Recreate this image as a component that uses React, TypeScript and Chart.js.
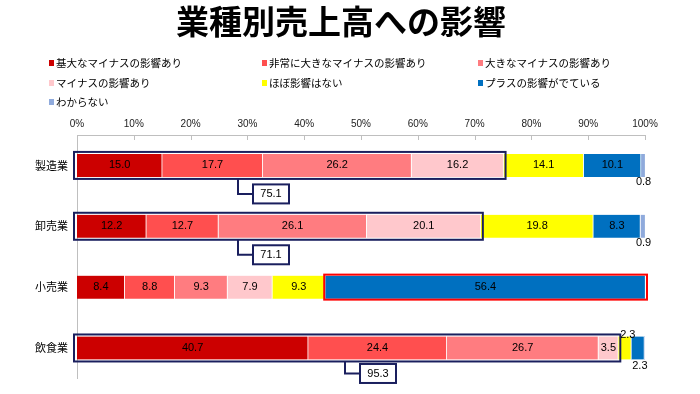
import React, { useEffect, useRef } from "react";
import { Chart, registerables } from "chart.js";

Chart.register(...registerables);

const chartTitle = "業種別売上高への影響";
const categories = ["製造業", "卸売業", "小売業", "飲食業"];
const seriesNames = [
  "基大なマイナスの影響あり",
  "非常に大きなマイナスの影響あり",
  "大きなマイナスの影響あり",
  "マイナスの影響あり",
  "ほぼ影響はない",
  "プラスの影響がでている",
  "わからない",
];
const seriesColors = ["#CC0000", "#FF4F4F", "#FF7C80", "#FFC8CC", "#FFFF00", "#0070C0", "#8FAADC"];
const severeMinus = [15.0, 12.2, 8.4, 40.7];
const veryLargeMinus = [17.7, 12.7, 8.8, 24.4];
const largeMinus = [26.2, 26.1, 9.3, 26.7];
const minus = [16.2, 20.1, 7.9, 3.5];
const almostNone = [14.1, 19.8, 9.3, 2.3];
const plus = [10.1, 8.3, 56.4, 2.3];
const unknown = [0.8, 0.9, 0, 0];
const xTickValues = [0, 10, 20, 30, 40, 50, 60, 70, 80, 90, 100];

const seriesValues = [severeMinus, veryLargeMinus, largeMinus, minus, almostNone, plus, unknown];

// callout styles: which category gets a navy "total of minus" box, which gets a red box
const navyCallouts = [0, 1, 3];
const redCallouts = [2];
const calloutAnchorPct = [28.3, 28.3, 0, 47.2];
const calloutDrop = [15, 15, 0, 12];

const NAVY = "#1a1f5e";
const JP = '"Noto Sans CJK JP", "Noto Sans", sans-serif';
const NUM = '"Liberation Sans Narrow", "Liberation Sans", Arial, sans-serif';

const overlayPlugin = {
  id: "overlay",
  afterDraw(chart: any) {
    const { ctx, chartArea } = chart;
    const xs = chart.scales.x;
    ctx.save();

    // title
    ctx.fillStyle = "#000";
    ctx.font = `bold 33px ${JP}`;
    ctx.textAlign = "center";
    ctx.textBaseline = "middle";
    ctx.fillText(chartTitle, 341, 21);

    // legend (3 columns)
    const colX = [49, 262, 478];
    const rowY = [63, 83, 102];
    ctx.font = `10.5px ${JP}`;
    ctx.textAlign = "left";
    seriesNames.forEach((name, i) => {
      const cx = colX[i % 3];
      const cy = rowY[Math.floor(i / 3)];
      ctx.fillStyle = seriesColors[i];
      ctx.fillRect(cx, cy - 3, 5, 6);
      ctx.fillStyle = "#000";
      ctx.fillText(name, cx + 7, cy);
    });

    // tick marks on top axis (pointing down)
    ctx.strokeStyle = "#bfbfbf";
    ctx.lineWidth = 1;
    xTickValues.forEach((v) => {
      const px = Math.round(xs.getPixelForValue(v)) + 0.5;
      ctx.beginPath();
      ctx.moveTo(px, chartArea.top);
      ctx.lineTo(px, chartArea.top + 5);
      ctx.stroke();
    });

    // data labels
    ctx.font = `11px ${NUM}`;
    ctx.fillStyle = "#000";
    ctx.textAlign = "center";
    ctx.textBaseline = "middle";
    chart.data.datasets.forEach((ds: any, di: number) => {
      const meta = chart.getDatasetMeta(di);
      meta.data.forEach((bar: any, i: number) => {
        const v = ds.data[i];
        if (!v) return;
        const p = bar.getProps(["x", "y", "base", "height"], true);
        const left = Math.min(p.x, p.base);
        const right = Math.max(p.x, p.base);
        const top = p.y - p.height / 2;
        const bottom = p.y + p.height / 2;
        const txt = v.toFixed(1);
        if (v >= 3) {
          ctx.fillText(txt, (left + right) / 2, p.y);
        } else if (di === 4) {
          ctx.fillText(txt, (left + right) / 2 + 3, top - 2);
        } else if (di === 5) {
          ctx.fillText(txt, (left + right) / 2 + 2, bottom + 6);
        } else {
          ctx.fillText(txt, right - 2, bottom + 5);
        }
      });
    });

    // navy callouts: total of the four minus series
    const metas = chart.data.datasets.map((_: any, di: number) => chart.getDatasetMeta(di));
    navyCallouts.forEach((ci) => {
      const total = severeMinus[ci] + veryLargeMinus[ci] + largeMinus[ci] + minus[ci];
      const b0 = metas[0].data[ci].getProps(["y", "height"], true);
      const x0 = xs.getPixelForValue(0) - 3;
      const x1 = xs.getPixelForValue(total) + 2;
      const y0 = b0.y - b0.height / 2 - 2;
      const y1 = b0.y + b0.height / 2 + 2;
      ctx.strokeStyle = NAVY;
      ctx.lineWidth = 2;
      ctx.strokeRect(x0, y0, x1 - x0, y1 - y0);
      const ax = Math.round(xs.getPixelForValue(calloutAnchorPct[ci]));
      const ly = y1 + calloutDrop[ci];
      const bx = ax + 15;
      const bw = 36;
      const bh = 19;
      ctx.beginPath();
      ctx.moveTo(ax, y1);
      ctx.lineTo(ax, ly);
      ctx.lineTo(bx, ly);
      ctx.stroke();
      ctx.fillStyle = "#fff";
      ctx.fillRect(bx, ly - bh / 2, bw, bh);
      ctx.strokeRect(bx, ly - bh / 2, bw, bh);
      ctx.fillStyle = "#000";
      ctx.font = `11px ${NUM}`;
      ctx.textAlign = "center";
      ctx.fillText(total.toFixed(1), bx + bw / 2, ly);
    });

    // red callout around the plus segment
    redCallouts.forEach((ci) => {
      const p = metas[5].data[ci].getProps(["x", "y", "base", "height"], true);
      const x0 = Math.min(p.x, p.base) - 1;
      const x1 = xs.getPixelForValue(100) + 2;
      const y0 = p.y - p.height / 2 - 1;
      const y1 = p.y + p.height / 2 + 1;
      ctx.strokeStyle = "#FF0000";
      ctx.lineWidth = 2;
      ctx.strokeRect(x0, y0, x1 - x0, y1 - y0);
    });

    ctx.restore();
  },
};

export default function App() {
  const canvasRef = useRef<HTMLCanvasElement | null>(null);

  useEffect(() => {
    const canvas = canvasRef.current;
    if (!canvas) return;
    const chart = new Chart(canvas, {
      type: "bar",
      data: {
        labels: categories,
        datasets: seriesNames.map((name, i) => ({
          label: name,
          data: seriesValues[i],
          backgroundColor: seriesColors[i],
          borderColor: "rgba(255,255,255,0.75)",
          borderWidth: { top: 0, bottom: 0, left: 0, right: 1 },
          borderSkipped: false,
          barThickness: 23,
        })),
      },
      options: {
        indexAxis: "y",
        responsive: false,
        animation: false,
        layout: { padding: { top: 112, right: 55, bottom: 9, left: 0 } },
        plugins: {
          legend: { display: false },
          title: { display: false },
          tooltip: { enabled: false },
        },
        scales: {
          x: {
            type: "linear",
            position: "top",
            stacked: true,
            min: 0,
            max: 100,
            afterBuildTicks: (s: any) => {
              s.ticks = xTickValues.map((v) => ({ value: v }));
            },
            ticks: {
              callback: (v: any) => `${v}%`,
              font: { size: 10, family: NUM },
              color: "#222",
              padding: 5,
              maxRotation: 0,
            },
            grid: { display: false, drawTicks: false },
            border: { display: true, color: "#bfbfbf" },
            afterFit: (s: any) => {
              s.height = 23;
            },
          },
          y: {
            stacked: true,
            ticks: { font: { size: 11, family: JP }, color: "#000", padding: 9 },
            grid: { display: false, drawTicks: false },
            border: { display: true, color: "#bfbfbf" },
            afterFit: (s: any) => {
              s.width = 77;
            },
          },
        },
      } as any,
      plugins: [overlayPlugin],
    });
    return () => chart.destroy();
  }, []);

  return (
    <div style={{ position: "fixed", left: 0, top: 0, width: 700, height: 394, background: "#fff" }}>
      <canvas ref={canvasRef} width={700} height={394} />
    </div>
  );
}
